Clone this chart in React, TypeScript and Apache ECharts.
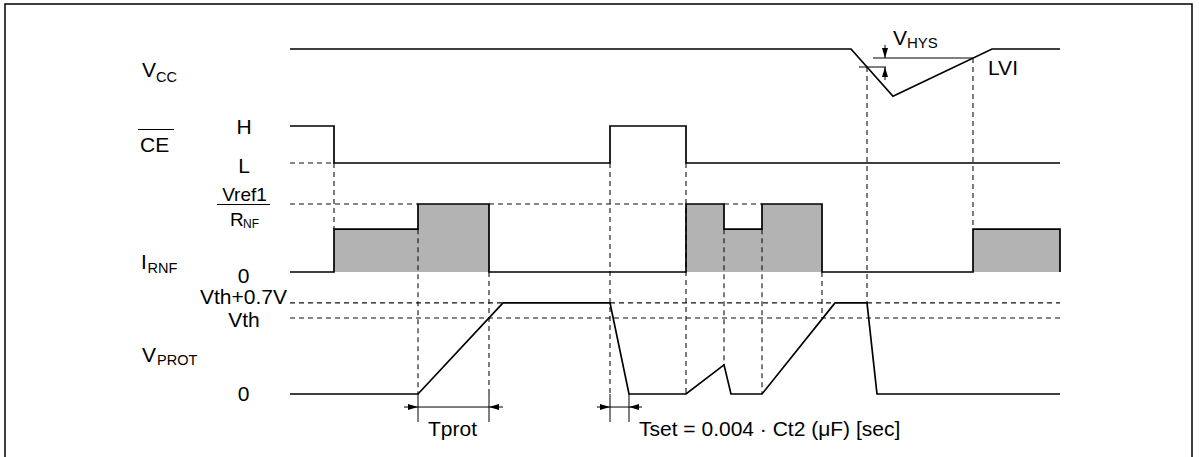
import React, { useEffect, useRef } from "react";
import * as echarts from "echarts";

// ---------- data (time in arbitrary units) ----------
const T_MAX = 77;

// Vcc (V)
const VCC_T = [0, 56.1, 60.3, 70.2, 77];
const VCC_V = [5.0, 5.0, 2.9, 5.0, 5.0];
const LVI_RELEASE = 4.6;
const LVI_DETECT = 4.2;

// CE-bar (1 = H, 0 = L)
const CE_T = [0, 4.4, 4.4, 32.0, 32.0, 39.6, 39.6, 77];
const CE_V = [1, 1, 0, 0, 1, 1, 0, 0];

// I_RNF pulses (fraction of Vref1/RNF)
const IRNF_START = [4.4, 12.8, 39.6, 43.4, 47.2, 68.3];
const IRNF_END = [12.8, 19.9, 43.4, 47.2, 53.2, 77];
const IRNF_LEVEL = [0.63, 1, 1, 0.63, 1, 0.63];

// V_PROT (V)
const VTH = 3.5;
const VTH_HI = 4.2; // Vth + 0.7V
const VPROT_T = [0, 12.8, 21.3, 32.0, 33.9, 39.6, 43.4, 44.1, 47.2, 54.5, 57.7, 58.7, 77];
const VPROT_V = [0, 0, 4.2, 4.2, 0, 0, 1.34, 0, 0, 4.2, 4.2, 0, 0];

// guide lines (dashed)
const H_GUIDES: [string, number, number, number][] = [
  ["ce", 0, 0, 4.4],
  ["irnf", 1, 0, 12.8],
  ["irnf", 1, 19.9, 39.6],
  ["irnf", 1, 43.4, 47.2],
  ["vprot", VTH_HI, 0, 21.3],
  ["vprot", VTH_HI, 32.0, 54.5],
  ["vprot", VTH_HI, 57.7, 77],
  ["vprot", VTH, 0, 77],
];
const V_GUIDES: [number, string, number, string, number][] = [
  [4.4, "ce", 0, "irnf", 0.63],
  [12.8, "irnf", 0.63, "vprot", 0],
  [19.9, "irnf", 0, "vprot", 0],
  [32.0, "ce", 0, "vprot", 0],
  [39.6, "ce", 0, "vprot", 0],
  [43.4, "irnf", 0.63, "vprot", 1.34],
  [47.2, "irnf", 0.63, "vprot", 0],
  [53.2, "irnf", 0, "vprot", VTH],
  [57.7, "vcc", LVI_DETECT, "vprot", VTH_HI],
  [68.3, "vcc", LVI_RELEASE, "irnf", 0.63],
];

// dimension marks (Tprot, Tset)
const DIM_EXT_T = [12.8, 19.9, 32.0, 33.9];
const DIM_EXT_LOW = -1.29;
const DIM_LEVEL = -0.6;
const DIM_LINES: [number, number][] = [
  [11.4, 21.3],
  [30.7, 35.2],
];
const DIM_TIPS: [number, number][] = [
  [12.8, 1],
  [19.9, -1],
  [32.0, 1],
  [33.9, -1],
];

// LVI hysteresis marks
const LVI_REL_SPAN: [number, number] = [58.3, 68.3];
const LVI_DET_SPAN: [number, number] = [56.9, 59.6];
const VHYS_T = 59.5;
const VHYS_TOP = 5.18;
const VHYS_BOTTOM = 3.62;

// ---------- layout of the lanes (row units = px) ----------
const LANES: Record<string, { base: number; scale: number }> = {
  vcc: { base: 161.5, scale: 22.5 },
  ce: { base: 163, scale: 37 },
  irnf: { base: 272, scale: 68 },
  vprot: { base: 394, scale: 21.7 },
};
const Y = (lane: string, v: number) => LANES[lane].base - v * LANES[lane].scale;

const FONT = '"Liberation Sans", Arial, Helvetica, sans-serif';

function buildIrnfOutline() {
  const pts: number[][] = [[0, 0]];
  const n = IRNF_START.length;
  for (let i = 0; i < n; i++) {
    const s = IRNF_START[i];
    const e = IRNF_END[i];
    const l = IRNF_LEVEL[i];
    if (i === 0 || IRNF_END[i - 1] !== s) pts.push([s, 0]);
    pts.push([s, l]);
    pts.push([e, l]);
    if (i === n - 1 || IRNF_START[i + 1] !== e) pts.push([e, 0]);
  }
  if (pts[pts.length - 1][0] < T_MAX) pts.push([T_MAX, 0]);
  return pts.map(([t, v]) => [t, Y("irnf", v)]);
}

function text(x: number, y: number, t: string, size: number, align = "left") {
  return {
    type: "text",
    x,
    y,
    silent: true,
    style: {
      text: t,
      fill: "#000",
      font: `${size}px ${FONT}`,
      align,
      verticalAlign: "middle",
    },
  };
}
function gline(x1: number, y1: number, x2: number, y2: number, w = 1) {
  return {
    type: "line",
    silent: true,
    shape: { x1, y1, x2, y2 },
    style: { stroke: "#000", lineWidth: w },
  };
}

export default function App() {
  const ref = useRef<HTMLDivElement>(null);
  useEffect(() => {
    if (!ref.current) return;
    const chart = echarts.init(ref.current, undefined, { renderer: "svg" });

    const segRender = (dash: number[] | null, color: string, width: number) =>
      (params: any, api: any) => {
        const p0 = api.coord([api.value(0), api.value(1)]);
        const p1 = api.coord([api.value(2), api.value(3)]);
        return {
          type: "line",
          shape: { x1: p0[0], y1: p0[1], x2: p1[0], y2: p1[1] },
          style: { stroke: color, lineWidth: width, lineDash: dash || undefined, fill: null },
        };
      };

    const hGuideData = H_GUIDES.map(([lane, v, t0, t1]) => [t0, Y(lane, v), t1, Y(lane, v)]);
    const vGuideData = V_GUIDES.map(([t, la, va, lb, vb]) => [t, Y(la, va), t, Y(lb, vb)]);

    const thinData: number[][] = [
      ...DIM_EXT_T.map((t) => [t, Y("vprot", 0), t, Y("vprot", DIM_EXT_LOW)]),
      ...DIM_LINES.map(([a, b]) => [a, Y("vprot", DIM_LEVEL), b, Y("vprot", DIM_LEVEL)]),
      [LVI_REL_SPAN[0], Y("vcc", LVI_RELEASE), LVI_REL_SPAN[1], Y("vcc", LVI_RELEASE)],
      [LVI_DET_SPAN[0], Y("vcc", LVI_DETECT), LVI_DET_SPAN[1], Y("vcc", LVI_DETECT)],
      [VHYS_T, Y("vcc", VHYS_TOP), VHYS_T, Y("vcc", LVI_RELEASE)],
      [VHYS_T, Y("vcc", LVI_DETECT), VHYS_T, Y("vcc", VHYS_BOTTOM)],
    ];

    // arrow tips: [t, y, dirX, dirY] (screen direction)
    const arrowData: number[][] = [
      ...DIM_TIPS.map(([t, d]) => [t, Y("vprot", DIM_LEVEL), d, 0]),
      [VHYS_T, Y("vcc", LVI_RELEASE), 0, 1],
      [VHYS_T, Y("vcc", LVI_DETECT), 0, -1],
    ];

    const rectData = IRNF_START.map((s, i) => [s, Y("irnf", IRNF_LEVEL[i]), IRNF_END[i], Y("irnf", 0)]);

    const sig = (pts: number[][]) => ({
      type: "line",
      data: pts,
      symbol: "none",
      silent: true,
      z: 5,
      lineStyle: { color: "#000", width: 1.7, join: "miter" },
    });

    const option: any = {
      animation: false,
      backgroundColor: "#fff",
      grid: { left: 290, right: 139, top: 0, bottom: 0, containLabel: false },
      xAxis: { type: "value", min: 0, max: T_MAX, show: false },
      yAxis: { type: "value", min: 0, max: 457, inverse: true, show: false },
      series: [
        {
          type: "custom",
          silent: true,
          z: 1,
          data: rectData,
          renderItem: (params: any, api: any) => {
            const p0 = api.coord([api.value(0), api.value(1)]);
            const p1 = api.coord([api.value(2), api.value(3)]);
            return {
              type: "rect",
              shape: { x: p0[0], y: p0[1], width: p1[0] - p0[0], height: p1[1] - p0[1] },
              style: { fill: "#b3b3b3", stroke: null },
            };
          },
        },
        {
          type: "custom",
          silent: true,
          z: 2,
          data: [...hGuideData, ...vGuideData],
          renderItem: segRender([5, 4], "#111", 1.1),
        },
        {
          type: "custom",
          silent: true,
          z: 3,
          data: thinData,
          renderItem: segRender(null, "#000", 1),
        },
        {
          type: "custom",
          silent: true,
          z: 4,
          data: arrowData,
          renderItem: (params: any, api: any) => {
            const p = api.coord([api.value(0), api.value(1)]);
            const dx = api.value(2);
            const dy = api.value(3);
            const L = 10;
            const W = 3;
            const bx = p[0] - dx * L;
            const by = p[1] - dy * L;
            return {
              type: "polygon",
              shape: {
                points: [
                  [p[0], p[1]],
                  [bx - dy * W, by + dx * W],
                  [bx + dy * W, by - dx * W],
                ],
              },
              style: { fill: "#000", stroke: null },
            };
          },
        },
        sig(VCC_T.map((t, i) => [t, Y("vcc", VCC_V[i])])),
        sig(CE_T.map((t, i) => [t, Y("ce", CE_V[i])])),
        sig(buildIrnfOutline()),
        sig(VPROT_T.map((t, i) => [t, Y("vprot", VPROT_V[i])])),
      ],
      graphic: [
        {
          type: "rect",
          silent: true,
          shape: { x: 5, y: 4, width: 1187, height: 470 },
          style: { fill: null, stroke: "#000", lineWidth: 1.5 },
        },
        // Vcc
        text(142, 69.5, "V", 21),
        text(156, 77, "CC", 14.5),
        // CE bar
        text(140, 144, "CE", 21),
        gline(138, 129.5, 174, 129.5, 1.2),
        text(244, 126.5, "H", 21, "center"),
        text(244, 165, "L", 21, "center"),
        // Vref1 / RNF
        text(244.5, 194, "Vref1", 19, "center"),
        gline(217, 204.5, 270, 204.5, 1.2),
        text(230, 219.5, "R", 19),
        text(243, 224, "NF", 12),
        // I_RNF
        text(141, 261.5, "I", 21),
        text(147.5, 267.5, "RNF", 14.5),
        text(243.5, 275, "0", 21, "center"),
        // V_PROT
        text(287, 296, "Vth+0.7V", 21, "right"),
        text(244, 319.5, "Vth", 21, "center"),
        text(142, 354.5, "V", 21),
        text(157, 360, "PROT", 14.5),
        text(243.5, 393, "0", 21, "center"),
        // LVI
        text(893, 37, "V", 21),
        text(907, 42.5, "HYS", 15),
        text(988, 67, "LVI", 21),
        // dimensions
        text(428, 428.5, "Tprot", 21),
        text(639, 428, "Tset = 0.004 \u00b7 Ct2 (\u03bcF) [sec]", 21),
      ],
    };
    chart.setOption(option);
    return () => chart.dispose();
  }, []);

  return (
    <div
      ref={ref}
      style={{ position: "absolute", left: 0, top: 0, width: 1199, height: 457 }}
    />
  );
}
